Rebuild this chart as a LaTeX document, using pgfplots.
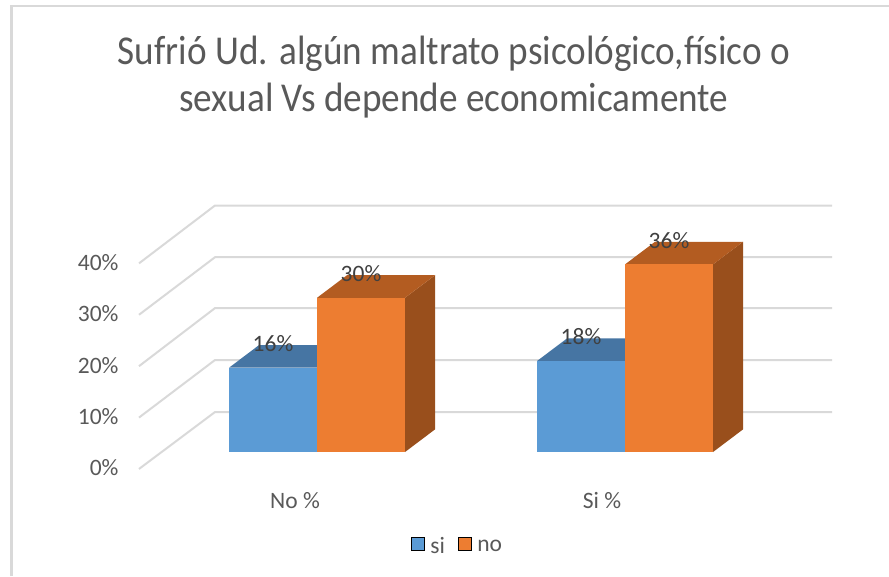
\documentclass[border=0pt]{standalone}
\usepackage{fontspec}
\usepackage{pgfplots}
\pgfplotsset{compat=1.18}
\setmainfont{Carlito}
\definecolor{gridc}{HTML}{D9D9D9}
\definecolor{txt}{HTML}{595959}
\definecolor{lbl}{HTML}{404040}
\definecolor{blueF}{HTML}{5B9BD5}
\definecolor{blueT}{HTML}{4675A3}
\definecolor{orF}{HTML}{ED7D31}
\definecolor{orT}{HTML}{B35C21}
\definecolor{orS}{HTML}{994F1C}

\begin{document}
\begin{tikzpicture}
\begin{axis}[
  scale only axis,
  width=889pt, height=576pt,
  xmin=0, xmax=889,
  ymin=-24.12, ymax=87.94,
  clip=false,
  axis line style={draw=none},
  major tick length=0pt,
  ytick={0,10,20,30,40},
  yticklabel={\pgfmathprintnumber{\tick}\%},
  yticklabel style={anchor=east, xshift=122pt, yshift=-16pt, font=\fontsize{23.5}{25}\selectfont, text=txt},
  xtick={295,602},
  xticklabels={No \%,Si \%},
  xticklabel style={anchor=center, yshift=75pt, font=\fontsize{23.5}{25}\selectfont, text=txt},
  /pgf/number format/assume math mode=true,
  legend columns=2,
  legend style={draw=none, fill=none, at={(axis cs:457.5,-18.3)}, anchor=center,
    font=\fontsize{23.5}{25}\selectfont, text=txt,
    /tikz/every even column/.style={column sep=11pt}},
  legend image code/.code={\fill[#1] (0pt,-4pt) rectangle (13pt,9pt); \path (17pt,0pt);},
]
  % legend first so it does not pick up the faces
  \addlegendimage{fill=blueF}
  \addlegendentry{si}
  \addlegendimage{fill=orF}
  \addlegendentry{no}

  % chart frame
  \draw[gridc, line width=2.5pt] (axis cs:11.5,-24.12) -- (axis cs:11.5,86.75) -- (axis cs:889,86.75);

  % floor/wall grid, 0% to 40%
  \addplot[gridc, line width=2pt, forget plot] coordinates {(139,-3.3) (215,7.78) (832,7.78)};
  \addplot[gridc, line width=2pt, forget plot] coordinates {(139,6.7) (215,17.9) (832,17.9)};
  \addplot[gridc, line width=2pt, forget plot] coordinates {(139,16.7) (215,28.0) (832,28.0)};
  \addplot[gridc, line width=2pt, forget plot] coordinates {(139,26.7) (215,37.9) (832,37.9)};
  \addplot[gridc, line width=2pt, forget plot] coordinates {(139,36.7) (215,47.96) (832,47.96)};

  % No %: si 16.4, no 30
  \addplot[fill=blueT, draw=none, forget plot] coordinates {(229,16.4) (317,16.4) (347,20.8) (259,20.8)} --cycle;
  \addplot[fill=blueF, draw=none, forget plot] coordinates {(229,0) (317,0) (317,16.4) (229,16.4)} --cycle;
  \addplot[fill=orS, draw=none, forget plot] coordinates {(405,0) (435,4.4) (435,34.4) (405,30)} --cycle;
  \addplot[fill=orT, draw=none, forget plot] coordinates {(317,30) (405,30) (435,34.4) (347,34.4)} --cycle;
  \addplot[fill=orF, draw=none, forget plot] coordinates {(317,0) (405,0) (405,30) (317,30)} --cycle;

  % Si %: si 17.7, no 36.5
  \addplot[fill=blueT, draw=none, forget plot] coordinates {(537,17.7) (625,17.7) (655,22.1) (567,22.1)} --cycle;
  \addplot[fill=blueF, draw=none, forget plot] coordinates {(537,0) (625,0) (625,17.7) (537,17.7)} --cycle;
  \addplot[fill=orS, draw=none, forget plot] coordinates {(713,0) (743,4.4) (743,40.9) (713,36.5)} --cycle;
  \addplot[fill=orT, draw=none, forget plot] coordinates {(625,36.5) (713,36.5) (743,40.9) (655,40.9)} --cycle;
  \addplot[fill=orF, draw=none, forget plot] coordinates {(625,0) (713,0) (713,36.5) (625,36.5)} --cycle;

  % data labels
  \addplot[draw=none, mark=none, forget plot, point meta=explicit symbolic,
    nodes near coords,
    every node near coord/.style={anchor=center, yshift=24pt, text=lbl, font=\fontsize{23.5}{25}\selectfont}]
    table[meta=label, row sep=\\] {
      x y label\\
      273 16.4 16\%\\
      361 30 30\%\\
      581 17.7 18\%\\
      669 36.5 36\%\\
    };

  % title
  \node[text=txt, align=center, xscale=.907, font=\fontsize{41}{47}\selectfont] at (axis cs:454,72.9)
    {Sufrió Ud. algún maltrato psicológico,f{}ísico o\\sexual Vs depende economicamente};
\end{axis}
\pgfresetboundingbox
\path[use as bounding box] (0,0) rectangle (889pt,576pt);
\end{tikzpicture}
\end{document}
